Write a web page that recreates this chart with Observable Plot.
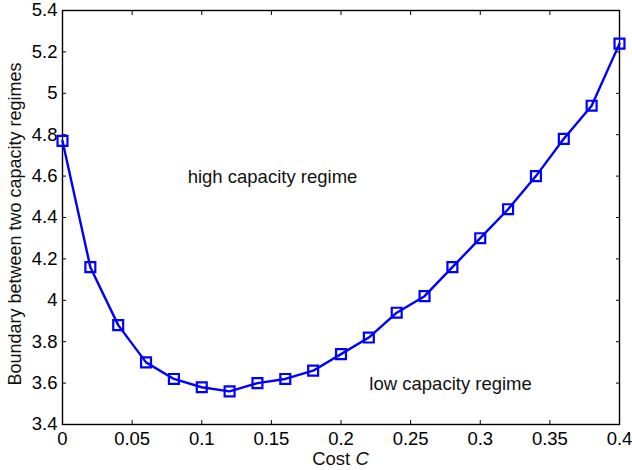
<!DOCTYPE html>
<html>
<head>
<meta charset="utf-8">
<script src="https://cdn.jsdelivr.net/npm/d3@7"></script>
<script src="https://cdn.jsdelivr.net/npm/@observablehq/plot@0.6"></script>
<style>
  html, body { margin: 0; padding: 0; background: #fff; }
  svg { display: block; }
</style>
</head>
<body>
<div id="chart"></div>
<script>
const cost = [0, 0.02, 0.04, 0.06, 0.08, 0.10, 0.12, 0.14, 0.16, 0.18, 0.20, 0.22, 0.24, 0.26, 0.28, 0.30, 0.32, 0.34, 0.36, 0.38, 0.40];
const boundary = [4.77, 4.16, 3.88, 3.70, 3.62, 3.58, 3.56, 3.60, 3.62, 3.66, 3.74, 3.82, 3.94, 4.02, 4.16, 4.30, 4.44, 4.60, 4.78, 4.94, 5.24];
const xTicks = [0, 0.05, 0.1, 0.15, 0.2, 0.25, 0.3, 0.35, 0.4];
const yTicks = [3.4, 3.6, 3.8, 4, 4.2, 4.4, 4.6, 4.8, 5, 5.2, 5.4];
const annotations = [
  {x: 0.1508, y: 4.593, text: "high capacity regime"},
  {x: 0.2787, y: 3.593, text: "low capacity regime"}
];

const data = cost.map((c, i) => ({c, b: boundary[i]}));
const fmt = d => String(+d.toFixed(2));
const FS = 18.5;

const chart = Plot.plot({
  width: 632,
  height: 470,
  marginLeft: 62,
  marginRight: 13,
  marginTop: 10,
  marginBottom: 46,
  style: {fontFamily: "'Liberation Sans', Arial, sans-serif", fontSize: FS + "px", color: "#000", background: "#fff"},
  x: {domain: [0, 0.4]},
  y: {domain: [3.4, 5.4]},
  marks: [
    Plot.frame({stroke: "#000", strokeWidth: 1.4}),
    Plot.axisX(xTicks, {anchor: "bottom", tickSize: -4, tickPadding: 11, tickFormat: fmt, label: null, fontSize: FS}),
    Plot.axisX(xTicks, {anchor: "top", tickSize: -4, tickFormat: () => "", label: null}),
    Plot.axisY(yTicks, {anchor: "left", tickSize: -4, tickPadding: 9, tickFormat: fmt, label: null, fontSize: FS}),
    Plot.axisY(yTicks, {anchor: "right", tickSize: -4, tickFormat: () => "", label: null}),
    Plot.line(data, {x: "c", y: "b", stroke: "#0000ff", strokeWidth: 2.4}),
    Plot.dot(data, {x: "c", y: "b", symbol: "square", r: 5.6, stroke: "#0000ff", strokeWidth: 2.2, fill: "none"}),
    Plot.text(annotations, {x: "x", y: "y", text: "text", fontSize: FS, fill: "#111"})
  ]
});

// axis titles
const svg = d3.select(chart);
svg.append("text")
  .attr("transform", "translate(16,224) rotate(-90)")
  .attr("text-anchor", "middle")
  .attr("dominant-baseline", "middle")
  .attr("font-size", 18)
  .attr("fill", "#111")
  .text("Boundary between two capacity regimes");
const xl = svg.append("text")
  .attr("x", 62 + 557 / 2)
  .attr("y", 465)
  .attr("text-anchor", "middle")
  .attr("font-size", FS)
  .attr("fill", "#111");
xl.append("tspan").text("Cost ");
xl.append("tspan").attr("font-style", "italic").text("C");

document.getElementById("chart").appendChild(chart);
</script>
</body>
</html>
